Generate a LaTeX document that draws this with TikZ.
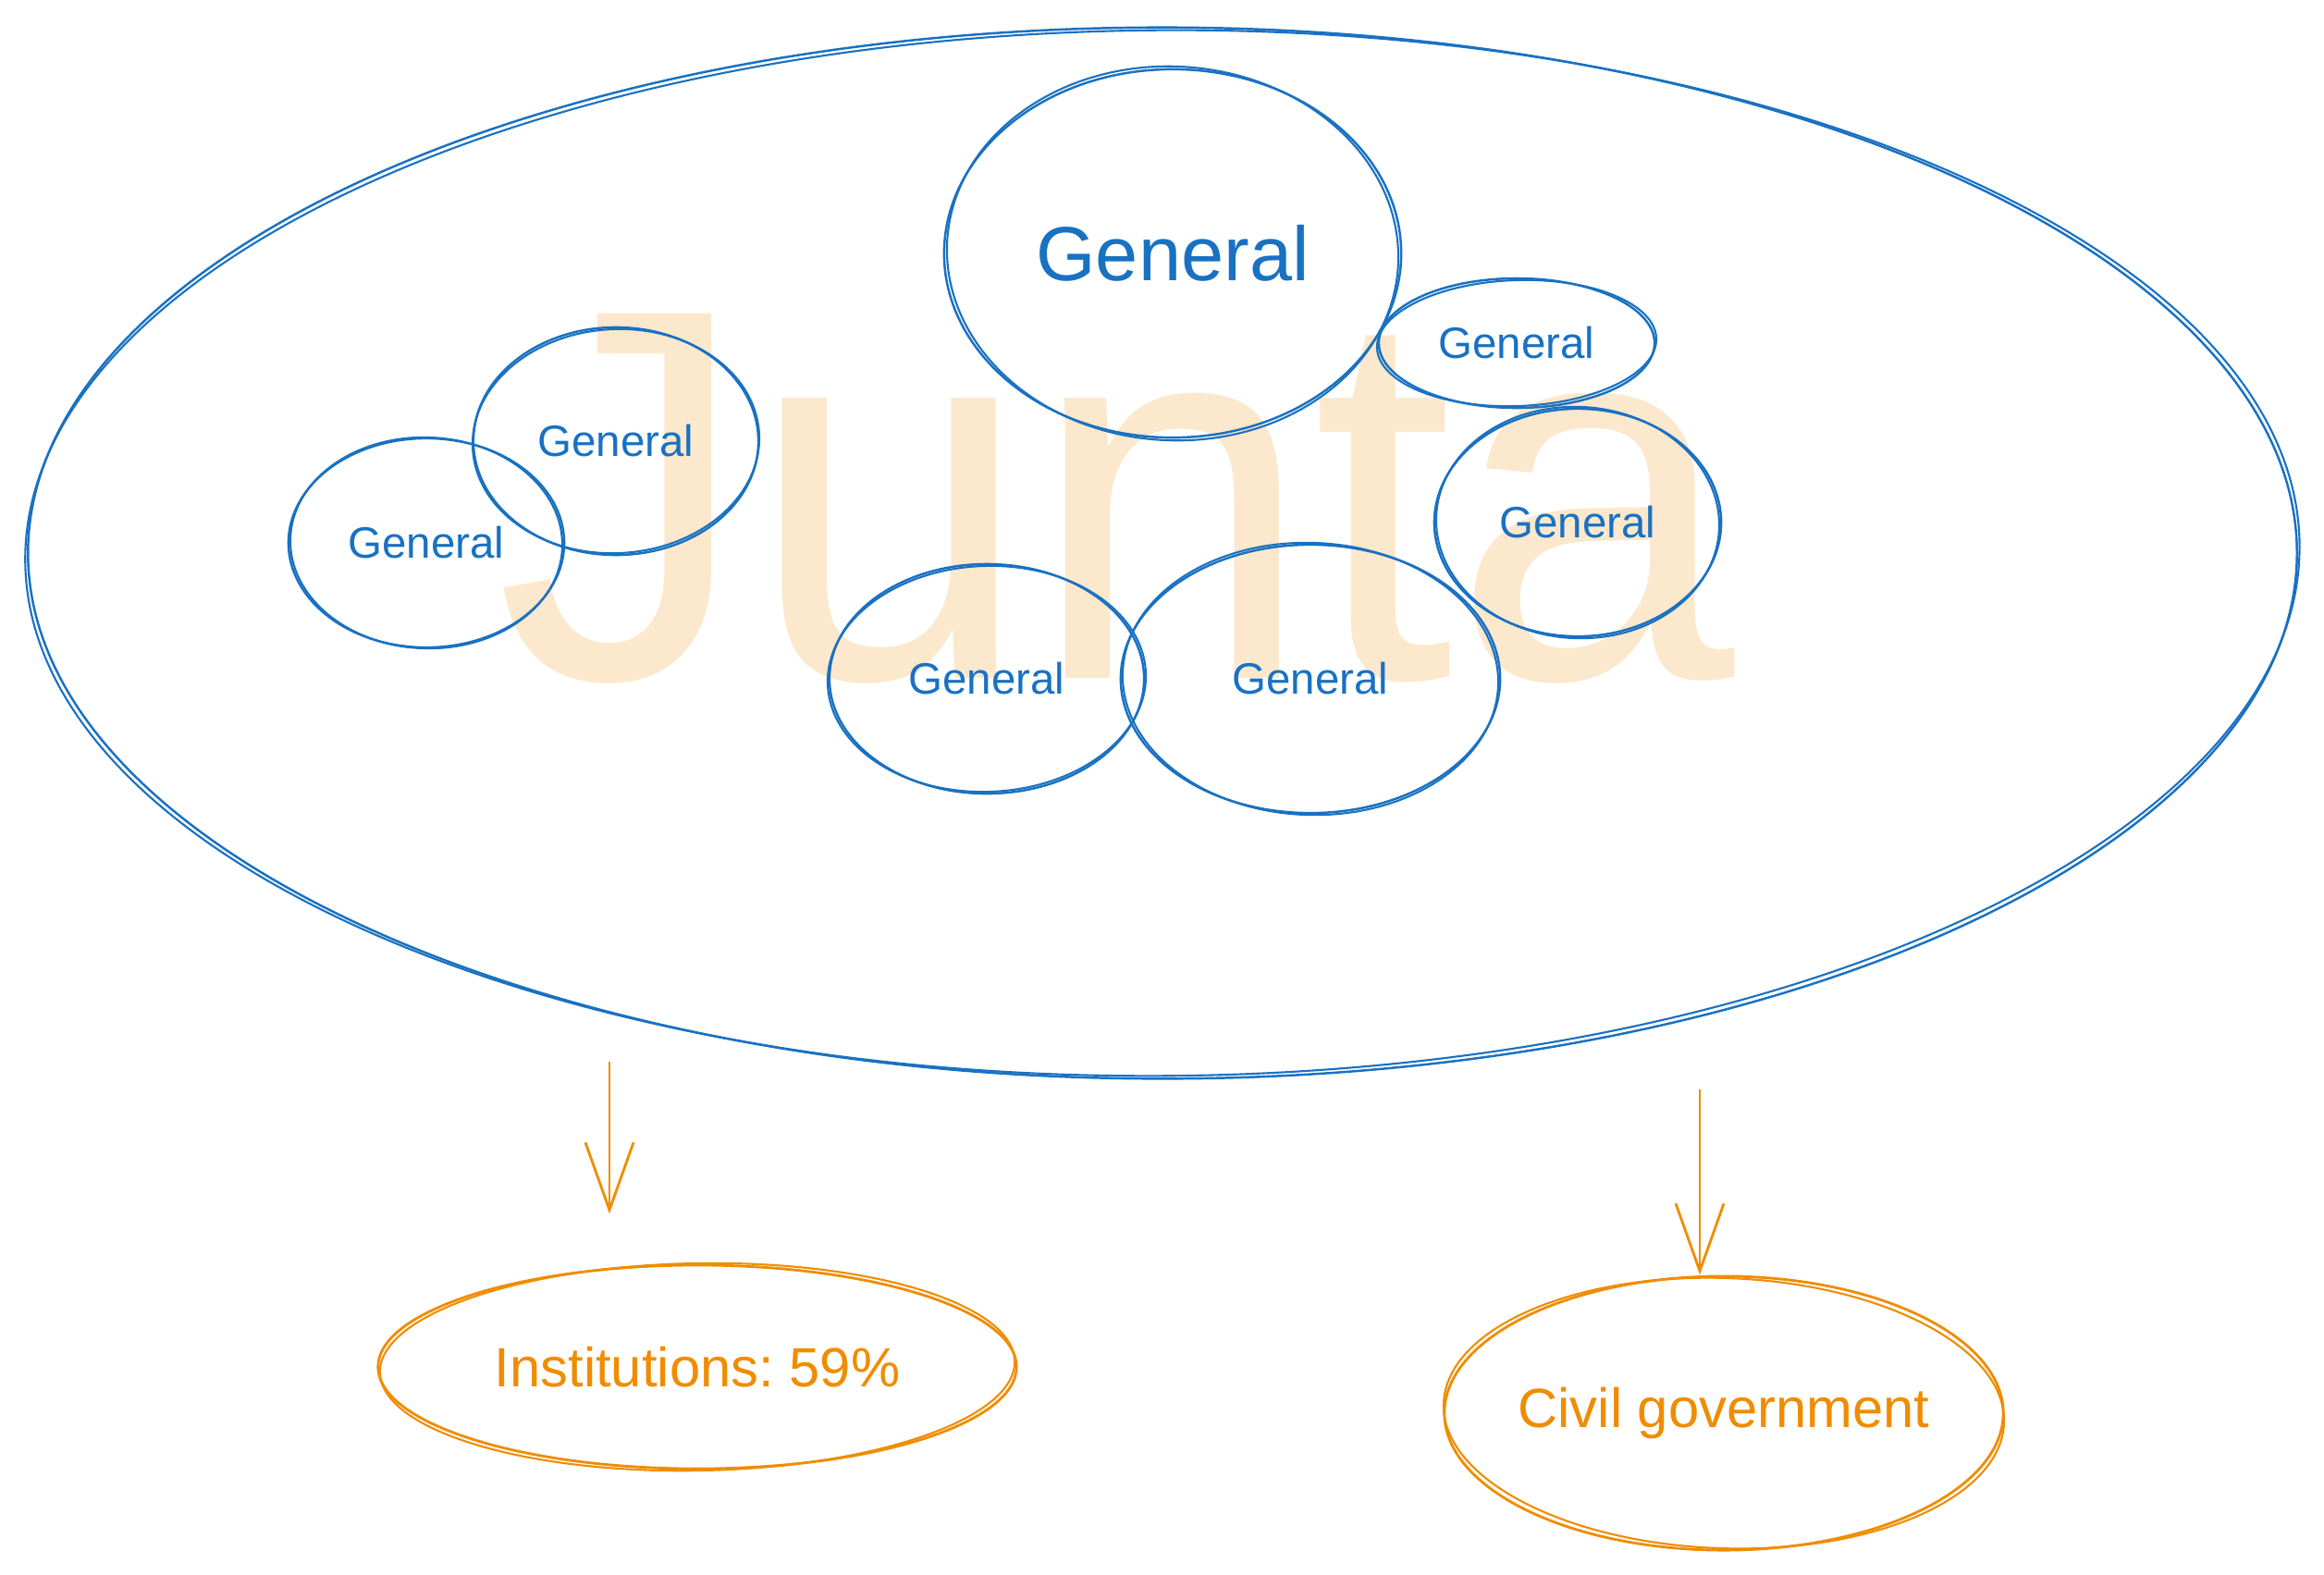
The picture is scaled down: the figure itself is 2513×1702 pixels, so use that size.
\documentclass[tikz,border=0pt]{standalone}
\usepackage{fontspec}
\setmainfont{Liberation Sans}
\usetikzlibrary{shapes.geometric,arrows.meta}
\definecolor{penblue}{HTML}{1971C2}
\definecolor{penorange}{HTML}{F08C00}
\definecolor{juntafill}{HTML}{FCE8CC}
\tikzset{
  pen/.style={draw=penblue, line width=0.6pt},
  group/.style={pen, ellipse, line width=0.7pt, inner sep=0pt},
  general/.style={group, text=penblue, font=\fontsize{13.5}{16}\selectfont},
  outcome/.style={draw=penorange, ellipse, line width=0.8pt, inner ysep=0pt, inner xsep=-1cm, text=penorange, font=\fontsize{17}{20}\selectfont},
  flow/.style={draw=penorange, line width=0.8pt, -{Straight Barb[length=0.73cm,width=0.52cm]}},
}
\begin{document}
\begin{tikzpicture}[x=0.01cm, y=-0.01cm]
  \useasboundingbox (0,0) rectangle (2513,1702);

  % watermark and the junta itself
  \node[anchor=base west, inner sep=0pt, text=juntafill, font=\fontsize{163}{163}\selectfont] (juntaLabel) at (536,733) {\scalebox{0.955}[1]{Junta}};
  \node[group, minimum width=24.52cm, minimum height=11.36cm] (junta) at (1257,598) {};

  % generals
  \node[general, minimum width=4.94cm, minimum height=3.98cm, font=\fontsize{23.6}{28}\selectfont] (g1) at (1268,274) {General};
  \node[general, minimum width=2.98cm, minimum height=1.40cm] (g2) at (1640,371) {General};
  \node[general, minimum width=3.10cm, minimum height=2.46cm] (g3) at (1706,565) {General};
  \node[general, minimum width=3.08cm, minimum height=2.46cm] (g4) at (666,477) {General};
  \node[general, minimum width=2.98cm, minimum height=2.26cm] (g5) at (461,587) {General};
  \node[general, minimum width=3.40cm, minimum height=2.48cm] (g6) at (1067,734) {General};
  \node[general, minimum width=4.10cm, minimum height=2.90cm] (g7) at (1417,734) {General};

  % what it controls
  \node[outcome, minimum width=6.90cm, minimum height=2.20cm] (inst) at (754,1478) {Institutions:\ 59\%};
  \node[outcome, minimum width=6.04cm, minimum height=2.96cm] (civil) at (1864,1528) {Civil government};

  % second pen stroke, hand drawn look
  \foreach \n/\a/\b/\r in {junta/12.29/5.65/0.4, g1/2.44/2.02/-3, g2/1.51/0.68/2,
      g3/1.53/1.25/-3, g4/1.55/1.21/3, g5/1.47/1.14/-2, g6/1.72/1.22/2, g7/2.03/1.47/-2}
    \draw[pen, rotate around={\r:(\n.center)}] (\n.center) ellipse [x radius=\a cm, y radius=\b cm];
  \foreach \n/\a/\b/\r in {inst/3.43/1.12/1, civil/3.03/1.46/-2}
    \draw[pen, draw=penorange, rotate around={\r:(\n.center)}] (\n.center) ellipse [x radius=\a cm, y radius=\b cm];

  \coordinate (instFrom) at (659,1148);
  \coordinate (civilFrom) at (1838,1178);
  \draw[flow, shorten >=0.54cm] (instFrom) -- (instFrom |- inst.north);
  \draw[flow] (civilFrom) -- (civilFrom |- civil.north);
\end{tikzpicture}
\end{document}
